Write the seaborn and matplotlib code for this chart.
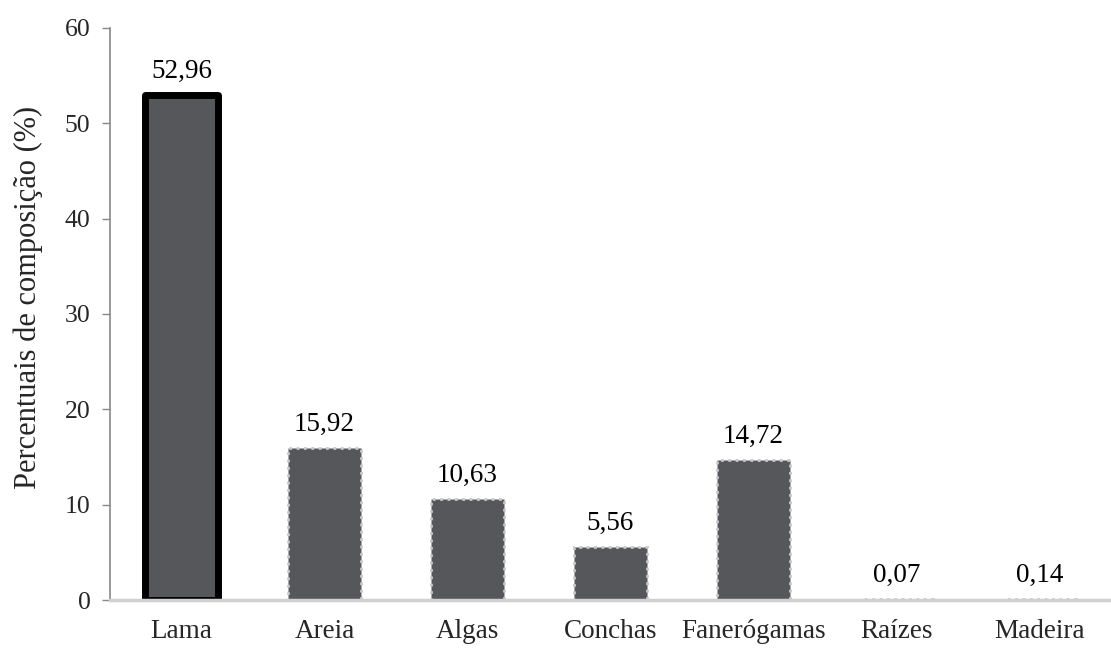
import matplotlib
matplotlib.use("Agg")
import matplotlib.pyplot as plt
import seaborn as sns
import pandas as pd

categorias = ["Lama", "Areia", "Algas", "Conchas", "Fanerógamas", "Raízes", "Madeira"]
percentuais = [52.96, 15.92, 10.63, 5.56, 14.72, 0.07, 0.14]
rotulos = ["52,96", "15,92", "10,63", "5,56", "14,72", "0,07", "0,14"]
yticks = [0, 10, 20, 30, 40, 50, 60]

sns.set_theme(style="white")
plt.rcParams["font.family"] = ["Liberation Serif", "DejaVu Serif"]

df = pd.DataFrame({"categoria": categorias, "percentual": percentuais})

fig = plt.figure(figsize=(11.11, 6.48), dpi=100)
ax = fig.add_axes([0.099, 0.074, 0.901, 0.883])

sns.barplot(data=df, x="categoria", y="percentual", color="#56575b",
            saturation=1, width=0.51, ax=ax)

# Lama bar gets a heavy black outline; the rest a faint dotted rim
for i, patch in enumerate(ax.patches):
    if i == 0:
        patch.set_edgecolor("black")
        patch.set_linewidth(5)
        patch.set_joinstyle("round")
    else:
        patch.set_edgecolor("#c8c8c8")
        patch.set_linewidth(2)
        patch.set_linestyle(":")

for patch, txt in zip(ax.patches, rotulos):
    x = patch.get_x() + patch.get_width() / 2
    ax.annotate(txt, (x, patch.get_height()), xytext=(0, 8),
                textcoords="offset points", ha="center", va="bottom",
                fontsize=19.5, color="black")

ax.set_xlim(-0.5, 6.5)
ax.set_ylim(0, 60)
ax.set_yticks(yticks)
ax.set_yticklabels([str(t) for t in yticks], fontsize=18.5)
ax.tick_params(axis="x", labelsize=19.5, length=0, pad=14)
ax.tick_params(axis="y", left=True, length=6, width=1, color="#888888", pad=8)
ax.set_xlabel("")
ax.set_ylabel("Percentuais de composição (%)", fontsize=22)
ax.yaxis.set_label_coords(-0.067, 0.528)

for side in ["top", "right"]:
    ax.spines[side].set_visible(False)
ax.spines["left"].set_color("#888888")
ax.spines["left"].set_linewidth(1.2)
ax.spines["bottom"].set_color("#d0d0d0")
ax.spines["bottom"].set_linewidth(2.5)

fig.savefig("out.png", dpi=100)
